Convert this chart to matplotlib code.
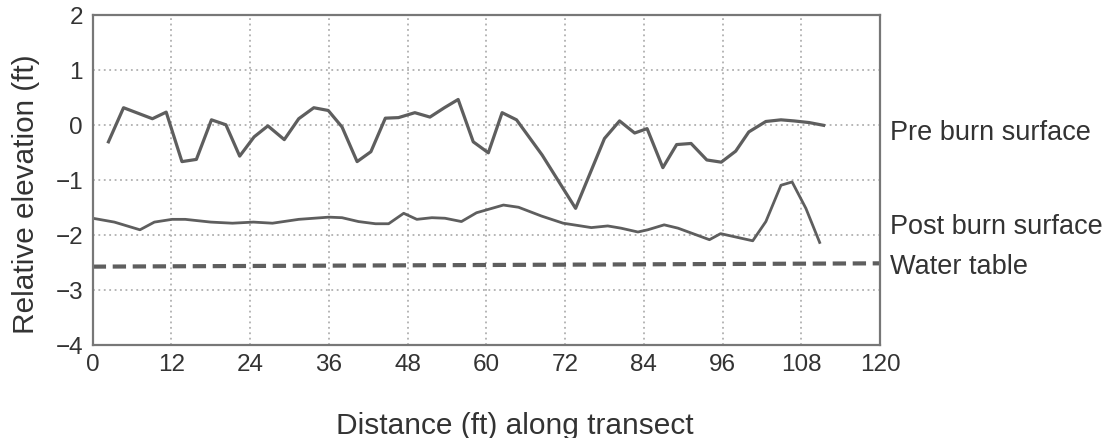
import matplotlib
matplotlib.use("Agg")
import matplotlib.pyplot as plt

# values (ft)
pre_x = [2.4, 4.7, 9.1, 11.2, 13.6, 15.8, 18.1, 20.3, 22.4, 24.6, 26.7, 29.2,
         31.4, 33.7, 35.9, 38.0, 40.3, 42.4, 44.6, 46.6, 49.1, 51.4, 53.6, 55.7,
         58.0, 60.3, 62.4, 64.6, 68.5, 73.6, 78.0, 80.3, 82.6, 84.5, 86.9, 89.0,
         91.2, 93.6, 95.8, 98.0, 100.0, 102.6, 104.9, 106.9, 109.2, 111.4]
pre_y = [-0.31, 0.31, 0.11, 0.23, -0.67, -0.63, 0.09, 0.0, -0.57, -0.22, -0.02, -0.27,
         0.11, 0.31, 0.26, -0.04, -0.67, -0.49, 0.12, 0.13, 0.22, 0.14, 0.31, 0.46,
         -0.31, -0.51, 0.22, 0.09, -0.55, -1.52, -0.25, 0.07, -0.15, -0.07, -0.78, -0.36,
         -0.34, -0.64, -0.68, -0.48, -0.13, 0.06, 0.09, 0.07, 0.04, -0.01]

post_x = [0.0, 3.3, 7.2, 9.4, 12.1, 14.1, 18.0, 21.3, 24.5, 27.4, 31.4, 36.0,
          38.0, 40.5, 43.1, 45.1, 47.4, 49.4, 51.7, 53.7, 56.2, 58.5, 62.6, 64.9,
          68.4, 71.7, 76.0, 78.5, 80.5, 83.1, 84.6, 87.1, 89.2, 94.0, 95.7, 100.6,
          102.6, 104.9, 106.6, 108.7, 110.8]
post_y = [-1.70, -1.77, -1.91, -1.77, -1.72, -1.72, -1.77, -1.79, -1.77, -1.79, -1.72, -1.68,
          -1.69, -1.76, -1.80, -1.80, -1.61, -1.72, -1.69, -1.70, -1.76, -1.60, -1.46, -1.50,
          -1.66, -1.79, -1.87, -1.84, -1.88, -1.95, -1.91, -1.82, -1.88, -2.09, -1.98, -2.11,
          -1.76, -1.10, -1.04, -1.52, -2.14]

water_x = [0, 120]
water_y = [-2.58, -2.52]

labels = ["Pre burn surface", "Post burn surface", "Water table"]
label_y = [-0.13, -1.84, -2.56]

xticks = list(range(0, 121, 12))
yticks = list(range(-4, 3))

plt.rcParams['font.family'] = ['Liberation Sans', 'DejaVu Sans']

fig = plt.figure(figsize=(11.05, 4.39), dpi=100)
ax = fig.add_axes([0.0839, 0.2125, 0.7125, 0.7515])

line_color = '#5e5e5e'
ax.plot(pre_x, pre_y, color=line_color, lw=2.3)
ax.plot(post_x, post_y, color=line_color, lw=2.0)
ax.plot(water_x, water_y, color=line_color, lw=3.0, dashes=(3.2, 1.6))

ax.set_xlim(0, 120)
ax.set_ylim(-4, 2)
ax.set_xticks(xticks)
ax.set_yticks(yticks)
ax.tick_params(length=0, labelsize=17.5, labelcolor='#333333')
ax.tick_params(axis='x', pad=6)
ax.tick_params(axis='y', pad=7)
ax.grid(True, color='#b0b0b0', linestyle=(0, (1, 2)), lw=1.3)

for sp in ax.spines.values():
    sp.set_color('#777777')
    sp.set_linewidth(1.6)

for text, y in zip(labels, label_y):
    ax.text(121.5, y, text, fontsize=19.5, color='#333333', va='center', ha='left',
            clip_on=False)

ax.set_ylabel('Relative elevation (ft)', fontsize=21.4, color='#333333', labelpad=11, y=0.46)
ax.set_xlabel('Distance (ft) along transect', fontsize=21.5, color='#333333', labelpad=26, x=0.536)

fig.savefig('out.png', dpi=100, facecolor='white')
